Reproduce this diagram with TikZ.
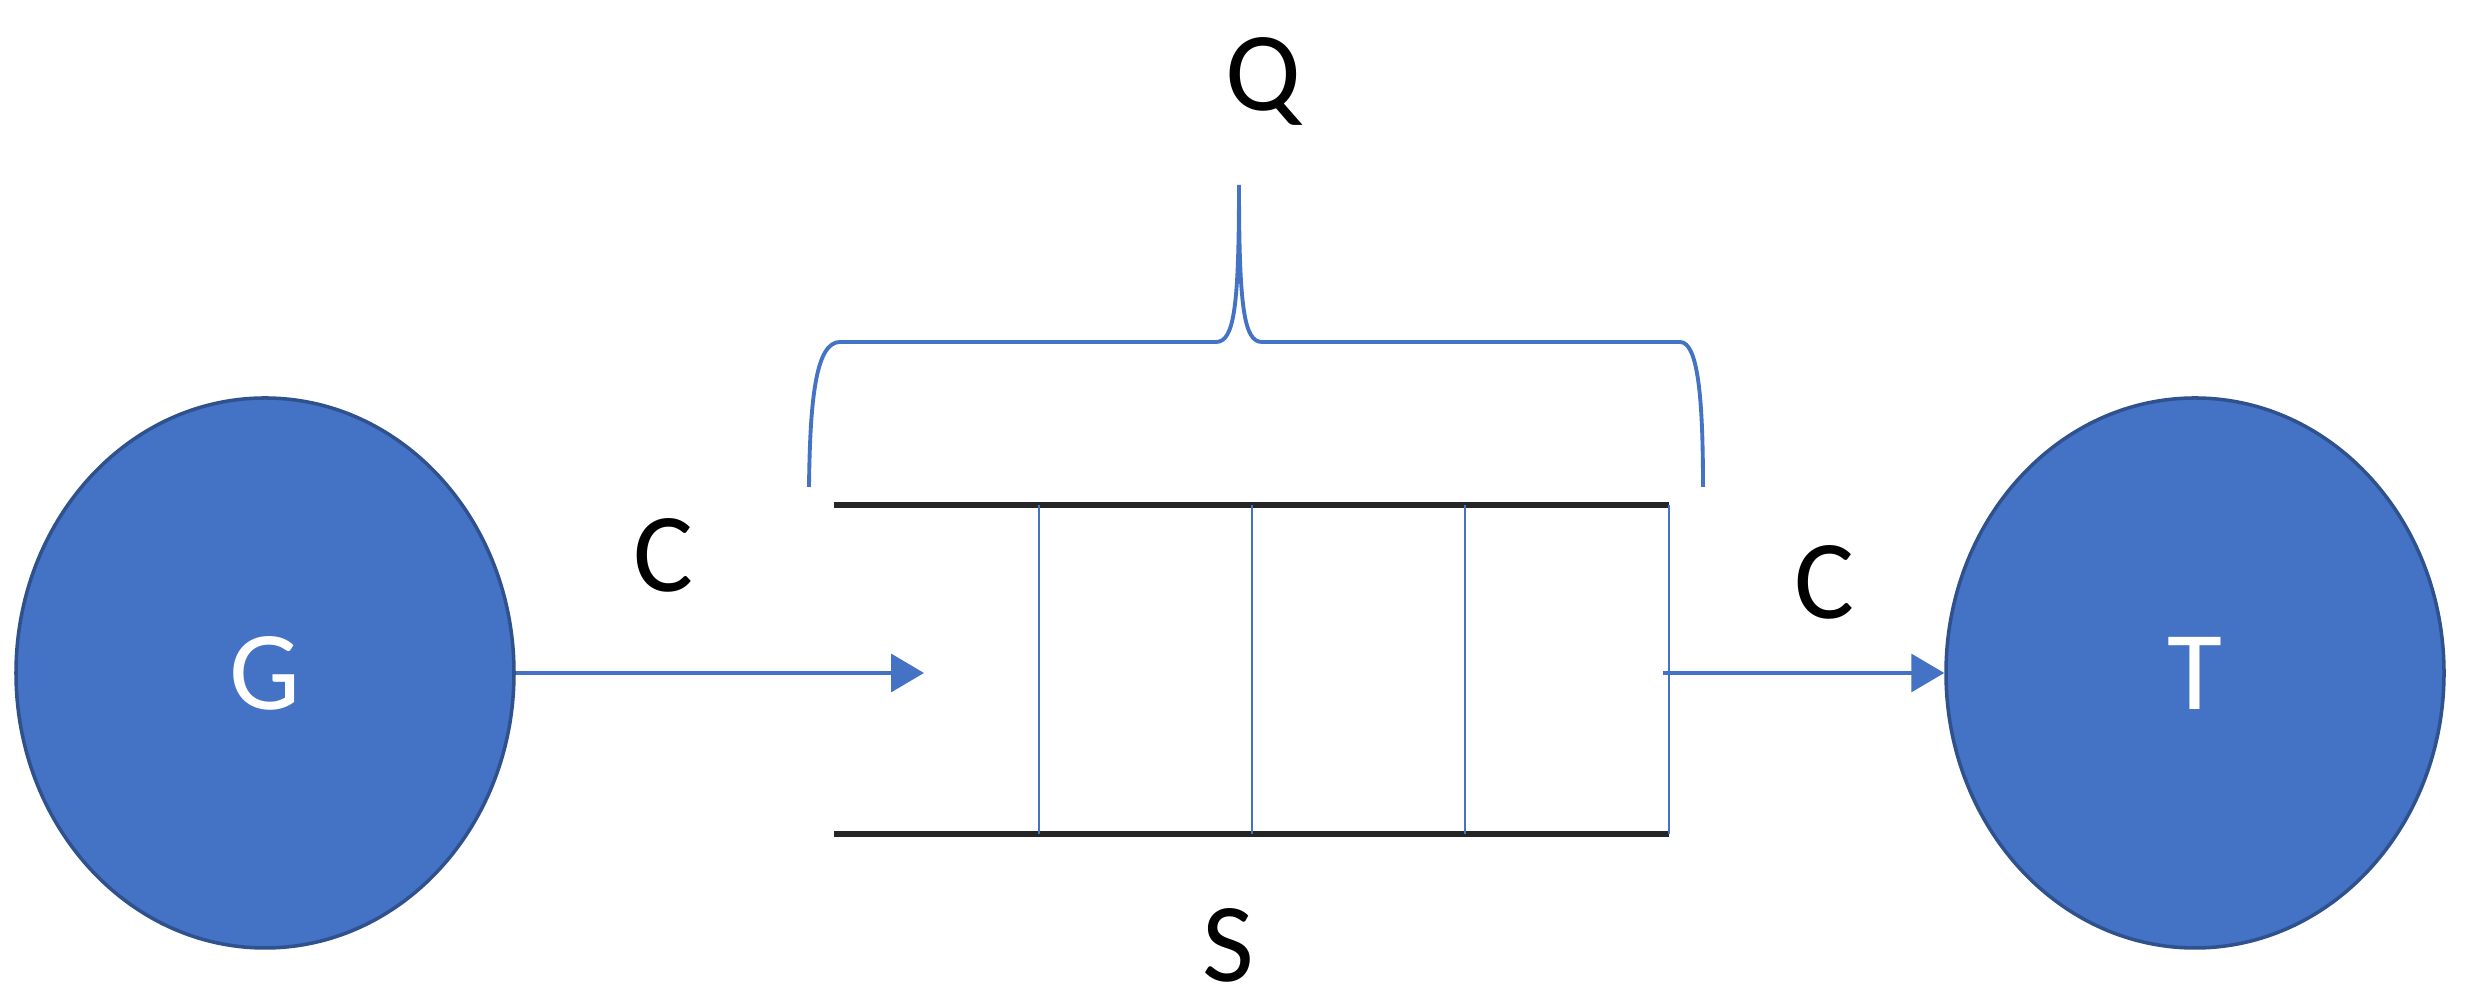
\documentclass[tikz,border=0pt]{standalone}
\usepackage{fontspec}
\setmainfont{Carlito}
\usetikzlibrary{arrows.meta,shapes.geometric,positioning}
\definecolor{nodeblue}{HTML}{4472C4}
\definecolor{rimblue}{HTML}{2F528F}
\tikzset{
  station/.style={ellipse,fill=nodeblue,draw=rimblue,line width=1pt,
    minimum width=4.98cm,minimum height=5.5cm,inner sep=0pt,
    text=white,font=\fontsize{32}{32}\selectfont},
  lbl/.style={anchor=base,font=\fontsize{32}{32}\selectfont},
  flow/.style={draw=nodeblue,line width=1pt,-{Triangle[length=3.3mm,width=3.8mm]}},
  cellwall/.style={draw=nodeblue,line width=0.8pt},
  rail/.style={draw=black!85,line width=1.8pt},
  brace/.style={draw=nodeblue,line width=1.1pt}
}

\begin{document}
\begin{tikzpicture}
      \useasboundingbox (0,0) rectangle (24.76,10.08);
      \node[station] (G) at (2.65,3.35) {G};
      \node[station] (T) at (21.95,3.35) {T};
      % queue
      \draw[rail] (8.34,5.03) -- (16.69,5.03);
      \draw[rail] (8.34,1.74) -- (16.69,1.74);
      \foreach \x in {10.39,12.52,14.65,16.69}
        \draw[cellwall] (\x,5.03) -- (\x,1.74);
      \draw[brace] (8.09,5.21) .. controls (8.10,6.1) and (8.16,6.66) .. (8.40,6.66)
        -- (12.16,6.66) .. controls (12.34,6.66) and (12.39,7.0) .. (12.39,8.23)
        .. controls (12.39,7.0) and (12.44,6.66) .. (12.62,6.66)
        -- (16.80,6.66) .. controls (16.98,6.66) and (17.03,6.1) .. (17.03,5.21);
      \coordinate (qin) at (9.24,3.35);
      \coordinate (qout) at (16.63,3.35);
      \draw[flow] (G) -- (qin);
      \draw[flow] (qout) -- (T);
      \node[lbl] (qlabel) at (12.63,8.97) {Q};
      \node[lbl] (cin) at (6.63,4.16) {C};
      \node[lbl] (cout) at (18.24,3.89) {C};
      \node[lbl] (slabel) at (12.28,0.26) {S};
\end{tikzpicture}
\end{document}
